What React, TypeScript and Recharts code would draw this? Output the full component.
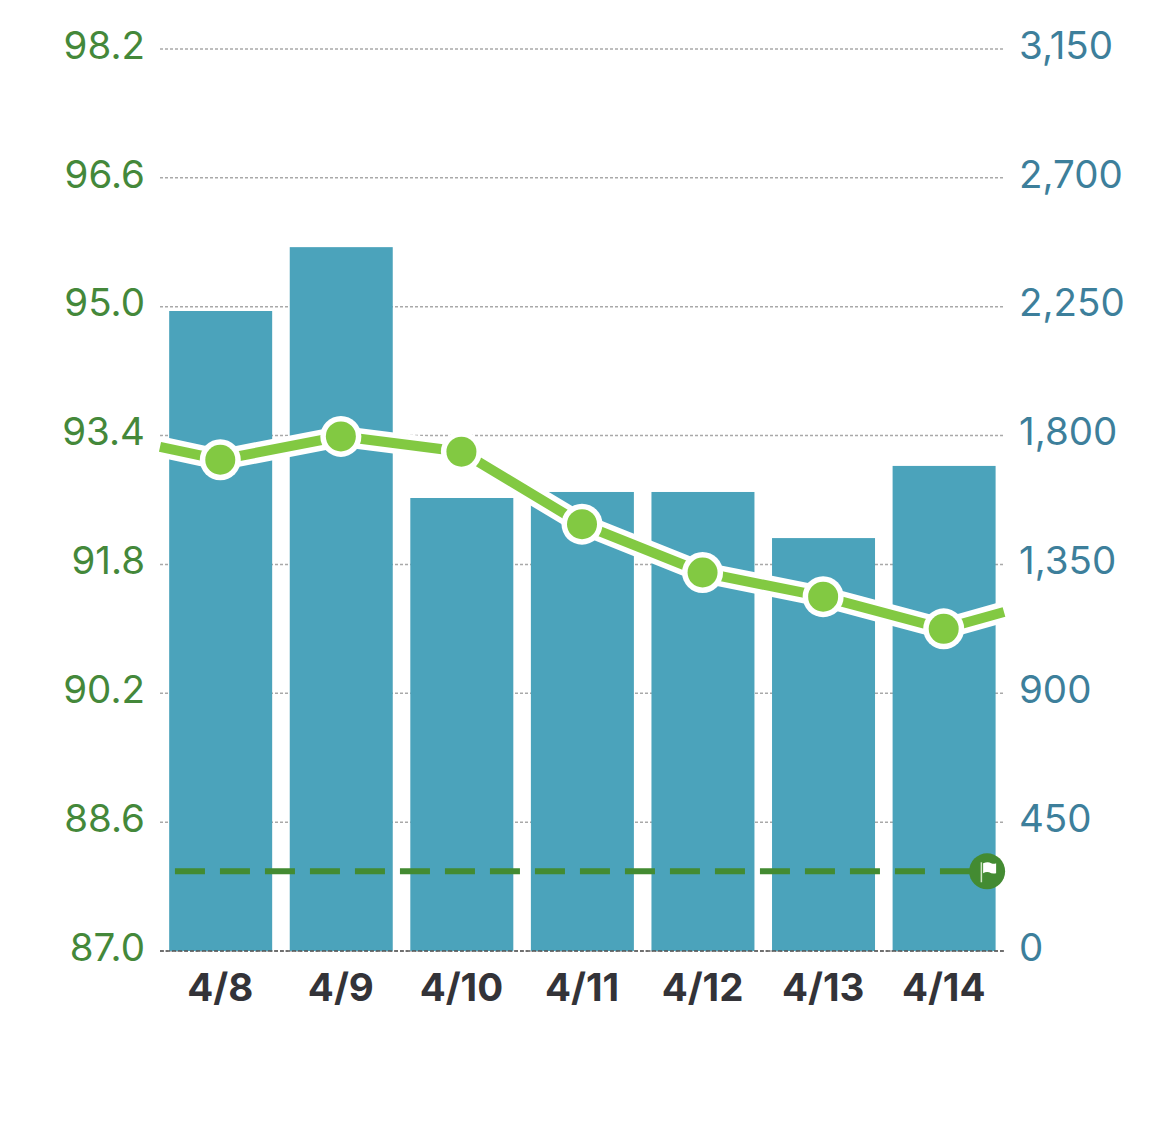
import React from 'react'
import {
  ComposedChart, Bar, Line, XAxis, YAxis, CartesianGrid, ReferenceLine, ReferenceDot,
} from 'recharts'

const days = ['4/8', '4/9', '4/10', '4/11', '4/12', '4/13', '4/14']
const barValues = [2235, 2458, 1582, 1603, 1603, 1442, 1694]
const lineValues = [93.1, 93.39, 93.2, 92.3, 91.7, 91.4, 91.0]
// line runs off both sides of the plot
const lineBefore = 93.26
const lineAfter = 91.21
const goal = 87.99

const leftTicks = [87.0, 88.6, 90.2, 91.8, 93.4, 95.0, 96.6, 98.2]
const rightTicks = [0, 450, 900, 1350, 1800, 2250, 2700, 3150]

const chartData = [
  { x: 0.5, line: lineBefore, edge: true },
  ...days.map((day, i) => ({ x: i + 1, day, bar: barValues[i], line: lineValues[i] })),
  { x: 7.5, line: lineAfter, edge: true },
]

const FONT = 'Inter, "Liberation Sans", sans-serif'
const BAR_WIDTH = 103

// the half-step edge points shrink the band, so the width is set here
function WideBar(props: any) {
  const { x, y, width, height } = props
  return <rect x={x + width / 2 - BAR_WIDTH / 2 + 0.5} y={y} width={BAR_WIDTH} height={height} fill="#4ba3bb" />
}

function LineDot(props: any) {
  const { cx, cy, payload, index } = props
  if (payload.edge) return <g key={index} />
  return (
    <g key={index}>
      <circle cx={cx} cy={cy} r={20.5} fill="#ffffff" />
      <circle cx={cx} cy={cy} r={15} fill="#82c942" />
    </g>
  )
}

function GoalFlag(props: any) {
  const { cx, cy } = props
  return (
    <g>
      <circle cx={cx} cy={cy} r={18} fill="#438b32" />
      <rect x={cx - 6.5} y={cy - 9} width={1.5} height={20} fill="#cfe8c4" />
      <path
        d={`M${cx - 4} ${cy - 8} Q${cx + 1} ${cy - 10} ${cx + 4} ${cy - 8} Q${cx + 7} ${cy - 7} ${cx + 9} ${cy - 8} L${cx + 9} ${cy + 2} Q${cx + 5} ${cy + 3} ${cx + 2} ${cy + 1} Q${cx - 1} ${cy} ${cx - 4} ${cy + 2} Z`}
        fill="#ffffff"
      />
    </g>
  )
}

export default function App() {
  return (
    <div style={{ position: 'absolute', left: 0, top: 0, width: 1170, height: 1146, background: '#fff' }}>
      <ComposedChart
        width={1170}
        height={1146}
        data={chartData}
        margin={{ top: 49, right: 0, bottom: 0, left: 0 }}
      >
        <CartesianGrid
          yAxisId="left"
          vertical={false}
          stroke="#a9a9a9"
          strokeWidth={1.5}
          strokeDasharray="3 2"
        />
        <XAxis
          dataKey="x"
          type="number"
          domain={[0.5, 7.5]}
          ticks={[1, 2, 3, 4, 5, 6, 7]}
          tickFormatter={(v: number) => days[v - 1]}
          interval={0}
          height={195}
          tickLine={false}
          axisLine={{ stroke: '#555555', strokeWidth: 1.5, strokeDasharray: '4 2' }}
          tickMargin={17}
          tick={{ fill: '#333338', fontSize: 38.5, fontWeight: 700, fontFamily: FONT }}
        />
        <YAxis
          yAxisId="left"
          orientation="left"
          width={160}
          domain={[87, 98.2]}
          ticks={leftTicks}
          tickFormatter={(v: number) => v.toFixed(1)}
          interval={0}
          axisLine={false}
          tickLine={false}
          tickMargin={9}
          tick={{ fill: '#44883a', fontSize: 38.5, fontFamily: FONT, dy: -4 }}
        />
        <YAxis
          yAxisId="right"
          orientation="right"
          width={166}
          domain={[0, 3150]}
          ticks={rightTicks}
          tickFormatter={(v: number) => v.toLocaleString('en-US')}
          interval={0}
          axisLine={false}
          tickLine={false}
          tickMargin={9}
          tick={{ fill: '#3d7f9b', fontSize: 38.5, fontFamily: FONT, dy: -4 }}
        />
        <Bar yAxisId="right" dataKey="bar" fill="#4ba3bb" shape={WideBar} isAnimationActive={false} />
        <ReferenceLine
          yAxisId="left"
          segment={[{ x: 0.624, y: goal }, { x: 7.36, y: goal }]}
          stroke="#438b32"
          strokeWidth={6}
          strokeDasharray="30 15"
        />
        <ReferenceDot yAxisId="left" x={7.36} y={goal} r={18} shape={GoalFlag} />
        <Line
          yAxisId="left"
          dataKey="line"
          stroke="#ffffff"
          strokeWidth={21}
          dot={false}
          activeDot={false}
          isAnimationActive={false}
          legendType="none"
        />
        <Line
          yAxisId="left"
          dataKey="line"
          stroke="#82c942"
          strokeWidth={10}
          dot={LineDot}
          activeDot={false}
          isAnimationActive={false}
        />
      </ComposedChart>
    </div>
  )
}
